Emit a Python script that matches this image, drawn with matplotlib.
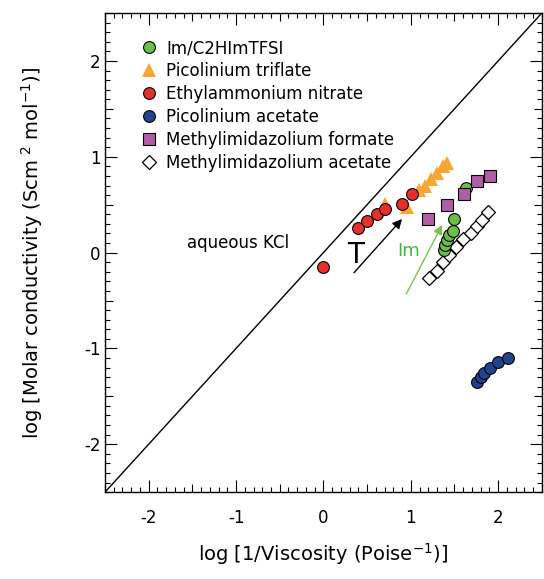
import numpy as np
import matplotlib.pyplot as plt
from matplotlib.ticker import MultipleLocator, FixedLocator, FuncFormatter

plt.rcParams['font.family'] = ['DejaVu Sans']

# data (log 1/viscosity, log molar conductivity)
im_x = [1.38, 1.39, 1.41, 1.44, 1.48, 1.50, 1.63]
im_y = [0.03, 0.08, 0.13, 0.18, 0.23, 0.35, 0.67]

pic_trif_x = [0.70, 0.96, 1.09, 1.16, 1.23, 1.30, 1.37, 1.41]
pic_trif_y = [0.51, 0.48, 0.65, 0.70, 0.77, 0.83, 0.90, 0.93]

ean_x = [0.00, 0.40, 0.50, 0.61, 0.70, 0.90, 1.01]
ean_y = [-0.15, 0.26, 0.33, 0.40, 0.45, 0.51, 0.61]

pic_ac_x = [1.76, 1.80, 1.84, 1.91, 2.00, 2.11]
pic_ac_y = [-1.35, -1.30, -1.26, -1.20, -1.14, -1.10]

mim_form_x = [1.20, 1.41, 1.61, 1.76, 1.91]
mim_form_y = [0.35, 0.50, 0.61, 0.75, 0.80]

mim_ac_x = [1.21, 1.30, 1.37, 1.44, 1.52, 1.60, 1.69, 1.76, 1.82, 1.88]
mim_ac_y = [-0.26, -0.19, -0.10, -0.02, 0.06, 0.14, 0.20, 0.28, 0.34, 0.42]

fig = plt.figure(figsize=(5.44, 5.79), dpi=100)
ax = fig.add_axes([0.193, 0.150, 0.803, 0.8275])

# ideal aqueous KCl line
kcl = np.array([-2.5, 2.5])
ax.plot(kcl, kcl, color='black', lw=1.0, zorder=1)

ms = 8.5
ax.plot(mim_ac_x, mim_ac_y, 'D', ms=7, mfc='white', mec='black', mew=0.9,
        label='Methylimidazolium acetate', zorder=3)
ax.plot(pic_trif_x, pic_trif_y, '^', ms=10.5, mfc='#f9a533', mec='#f9a533', mew=0,
        label='Picolinium triflate', zorder=3)
ax.plot(im_x, im_y, 'o', ms=ms, mfc='#6abf45', mec='black', mew=0.8,
        label='Im/C2HImTFSI', zorder=4)
ax.plot(mim_form_x, mim_form_y, 's', ms=ms, mfc='#b15ea6', mec='black', mew=0.8,
        label='Methylimidazolium formate', zorder=5)
ax.plot(ean_x, ean_y, 'o', ms=ms, mfc='#e8302a', mec='black', mew=0.8,
        label='Ethylammonium nitrate', zorder=4)
ax.plot(pic_ac_x, pic_ac_y, 'o', ms=ms, mfc='#21438f', mec='black', mew=0.8,
        label='Picolinium acetate', zorder=4)

# annotations
ax.annotate('', xy=(0.90, 0.35), xytext=(0.35, -0.21),
            arrowprops=dict(arrowstyle='-|>', color='black', lw=1.0,
                            mutation_scale=14, shrinkA=0, shrinkB=0))
ax.annotate('', xy=(1.36, 0.29), xytext=(0.95, -0.43),
            arrowprops=dict(arrowstyle='-|>', color='#7dc24b', lw=1.0,
                            mutation_scale=14, shrinkA=0, shrinkB=0))
ax.text(0.37, -0.03, 'T', fontsize=20, ha='center', va='center')
ax.text(0.98, 0.02, 'Im', fontsize=13, color='#3db54a', ha='center', va='center')
ax.text(-0.98, 0.10, 'aqueous KCl', fontsize=12, ha='center', va='center')

handles, labels = ax.get_legend_handles_labels()
order = ['Im/C2HImTFSI', 'Picolinium triflate', 'Ethylammonium nitrate',
         'Picolinium acetate', 'Methylimidazolium formate', 'Methylimidazolium acetate']
hmap = dict(zip(labels, handles))
ax.legend([hmap[k] for k in order], order, loc='upper left', frameon=False,
          fontsize=12, handletextpad=0.45, labelspacing=0.3, handlelength=1.2,
          bbox_to_anchor=(0.05, 0.97), borderaxespad=0.3)

ax.set_xlim(-2.5, 2.5)
ax.set_ylim(-2.5, 2.5)

halves = [-2.5, -2, -1.5, -1, -0.5, 0, 0.5, 1, 1.5, 2, 2.5]
for axis in (ax.xaxis, ax.yaxis):
    axis.set_major_locator(FixedLocator(halves))
    axis.set_minor_locator(MultipleLocator(0.1))
    axis.set_major_formatter(FuncFormatter(
        lambda v, p: '%d' % round(v) if abs(v - round(v)) < 1e-6 else ''))

ax.tick_params(which='both', direction='in', top=True, right=True, width=0.8,
               labelsize=12)
ax.tick_params(which='major', length=6)
ax.tick_params(which='minor', length=3.5)
ax.tick_params(axis='x', which='major', pad=12)
ax.tick_params(axis='y', which='major', pad=3)

# integer ticks longer than half ticks
for axis in (ax.xaxis, ax.yaxis):
    for v, t in zip(halves, axis.get_major_ticks(len(halves))):
        if abs(v - round(v)) < 1e-6:
            t.tick1line.set_markersize(8.5)
            t.tick2line.set_markersize(8.5)

for s in ax.spines.values():
    s.set_linewidth(1.0)

ax.set_xlabel(r'log [1/Viscosity (Poise$^{-1}$)]', fontsize=14, labelpad=10)
ax.set_ylabel(r'log [Molar conductivity (Scm$^{\ 2}$ mol$^{-1}$)]', fontsize=14,
              labelpad=28)

fig.savefig('out.png', dpi=100)
